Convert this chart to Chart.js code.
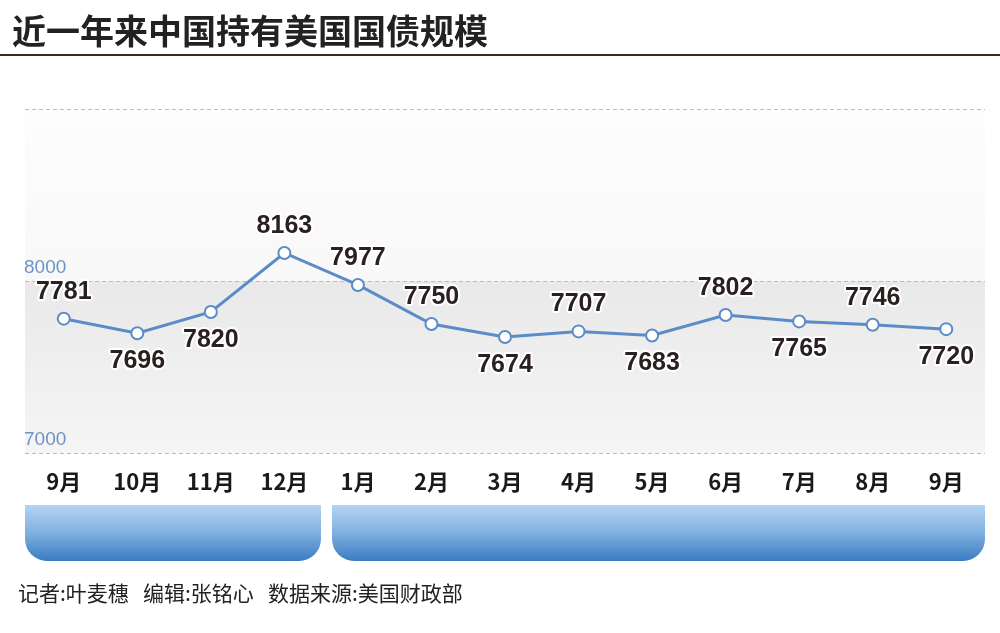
<!DOCTYPE html>
<html><head><meta charset="utf-8">
<script src="https://cdn.jsdelivr.net/npm/chart.js@4"></script>
<style>html,body{margin:0;padding:0;background:#fff}#w{width:1000px;height:633px;position:relative}</style>
</head><body><div id="w"><canvas id="c"></canvas></div>
<script>
const months=['9月','10月','11月','12月','1月','2月','3月','4月','5月','6月','7月','8月','9月'];
const holdings=[7781,7696,7820,8163,7977,7750,7674,7707,7683,7802,7765,7746,7720];
const labelAbove=[true,false,false,true,true,true,false,true,false,true,false,true,false];
const yTicks=[7000,8000];
const titleText='近一年来中国持有美国国债规模';
const footerText='记者:叶麦穗   编辑:张铭心   数据来源:美国财政部';
const F='"Noto Sans CJK SC","Noto Sans",sans-serif';

const deco={id:'deco',
 beforeDraw(ch){const c=ch.ctx,y=ch.scales.y,x=ch.scales.x;
  c.save();
  c.fillStyle='#fff';c.fillRect(0,0,1000,633);
  c.fillStyle='#222';c.font='bold 34px '+F;c.textBaseline='middle';c.fillText(titleText,12,31);
  c.fillStyle='#3a2a20';c.fillRect(0,54,1000,2);
  const l=25,r=985,y8=y.getPixelForValue(8000),y7=y.getPixelForValue(7000),y9=y.getPixelForValue(9000);
  let g=c.createLinearGradient(0,y9,0,y8);g.addColorStop(0,'#fdfdfd');g.addColorStop(1,'#f8f8f8');
  c.fillStyle=g;c.fillRect(l,y9,r-l,y8-y9);
  g=c.createLinearGradient(0,y8,0,y7);g.addColorStop(0,'#e9e9e9');g.addColorStop(1,'#f5f5f5');
  c.fillStyle=g;c.fillRect(l,y8,r-l,y7-y8);
  c.strokeStyle='#bbb';c.lineWidth=1;c.setLineDash([4,3]);
  [9000,8000,7000].forEach(v=>{const p=Math.round(y.getPixelForValue(v))+0.5;c.beginPath();c.moveTo(l,p);c.lineTo(r,p);c.stroke();});
  c.setLineDash([]);
  c.fillStyle='#6e93c4';c.font='19px "Liberation Sans Narrow","Liberation Sans",sans-serif';c.textBaseline='bottom';
  yTicks.forEach(v=>c.fillText(String(v),24,y.getPixelForValue(v)-4));
  c.fillStyle='#1a1a1a';c.font='bold 22px '+F;c.textAlign='center';c.textBaseline='middle';
  months.forEach((m,i)=>c.fillText(m,x.getPixelForValue(i),482));
  function bar(a,b){let gg=c.createLinearGradient(0,505,0,561);gg.addColorStop(0,'#b5d4f1');gg.addColorStop(0.5,'#7fb0e0');gg.addColorStop(1,'#3a7bc2');
   c.fillStyle=gg;c.beginPath();c.roundRect(a,505,b-a,56,[0,0,22,22]);c.fill();}
  bar(25,321);bar(332,985);
  c.fillStyle='#222';c.font='21px '+F;c.textAlign='left';c.fillText(footerText,18,593);
  c.restore();},
 afterDatasetsDraw(ch){const c=ch.ctx,m=ch.getDatasetMeta(0);c.save();
  c.font='bold 25px "Liberation Sans Narrow","Liberation Sans",sans-serif';c.textAlign='center';c.textBaseline='middle';
  c.lineWidth=4;c.strokeStyle='#fff';c.fillStyle='#2a2020';c.lineJoin='round';
  m.data.forEach((p,i)=>{const yy=p.y+(labelAbove[i]?-27:28);c.strokeText(holdings[i],p.x,yy);c.fillText(holdings[i],p.x,yy);});
  c.restore();}};

new Chart(document.getElementById('c'),{type:'line',
 data:{labels:months,datasets:[{data:holdings,borderColor:'#5b8cc8',borderWidth:3,pointBackgroundColor:'#fff',pointBorderColor:'#5b8cc8',pointBorderWidth:2,pointRadius:6,tension:0}]},
 options:{responsive:true,maintainAspectRatio:false,animation:false,
  layout:{padding:{left:27,right:17,top:109,bottom:180}},
  plugins:{legend:{display:false},tooltip:{enabled:false}},
  scales:{x:{display:false,offset:true},y:{display:false,min:7000,max:9000}}},
 plugins:[deco]});
</script></body></html>
